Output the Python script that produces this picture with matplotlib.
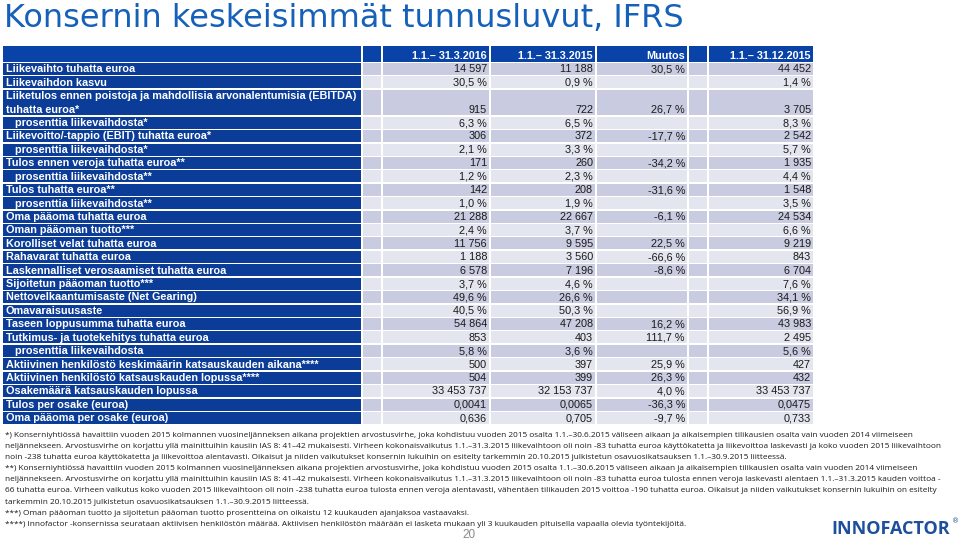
import matplotlib
matplotlib.use("Agg")
import matplotlib.pyplot as plt
from matplotlib.patches import Rectangle

# data
title = "Konsernin keskeisimmät tunnusluvut, IFRS"
headers = ["1.1.– 31.3.2016", "1.1.– 31.3.2015", "Muutos", "1.1.– 31.12.2015"]
labels = [
    "Liikevaihto tuhatta euroa",
    "Liikevaihdon kasvu",
    "Liiketulos ennen poistoja ja mahdollisia arvonalentumisia (EBITDA)\ntuhatta euroa*",
    "   prosenttia liikevaihdosta*",
    "Liikevoitto/-tappio (EBIT) tuhatta euroa*",
    "   prosenttia liikevaihdosta*",
    "Tulos ennen veroja tuhatta euroa**",
    "   prosenttia liikevaihdosta**",
    "Tulos tuhatta euroa**",
    "   prosenttia liikevaihdosta**",
    "Oma pääoma tuhatta euroa",
    "Oman pääoman tuotto***",
    "Korolliset velat tuhatta euroa",
    "Rahavarat tuhatta euroa",
    "Laskennalliset verosaamiset tuhatta euroa",
    "Sijoitetun pääoman tuotto***",
    "Nettovelkaantumisaste (Net Gearing)",
    "Omavaraisuusaste",
    "Taseen loppusumma tuhatta euroa",
    "Tutkimus- ja tuotekehitys tuhatta euroa",
    "   prosenttia liikevaihdosta",
    "Aktiivinen henkilöstö keskimäärin katsauskauden aikana****",
    "Aktiivinen henkilöstö katsauskauden lopussa****",
    "Osakemäärä katsauskauden lopussa",
    "Tulos per osake (euroa)",
    "Oma pääoma per osake (euroa)",
]
q1_2016 = ["14 597", "30,5 %", "915", "6,3 %", "306", "2,1 %", "171", "1,2 %", "142", "1,0 %",
           "21 288", "2,4 %", "11 756", "1 188", "6 578", "3,7 %", "49,6 %", "40,5 %", "54 864",
           "853", "5,8 %", "500", "504", "33 453 737", "0,0041", "0,636"]
q1_2015 = ["11 188", "0,9 %", "722", "6,5 %", "372", "3,3 %", "260", "2,3 %", "208", "1,9 %",
           "22 667", "3,7 %", "9 595", "3 560", "7 196", "4,6 %", "26,6 %", "50,3 %", "47 208",
           "403", "3,6 %", "397", "399", "32 153 737", "0,0065", "0,705"]
muutos = ["30,5 %", "", "26,7 %", "", "-17,7 %", "", "-34,2 %", "", "-31,6 %", "",
          "-6,1 %", "", "22,5 %", "-66,6 %", "-8,6 %", "", "", "", "16,2 %",
          "111,7 %", "", "25,9 %", "26,3 %", "4,0 %", "-36,3 %", "-9,7 %"]
fy_2015 = ["44 452", "1,4 %", "3 705", "8,3 %", "2 542", "5,7 %", "1 935", "4,4 %", "1 548", "3,5 %",
           "24 534", "6,6 %", "9 219", "843", "6 704", "7,6 %", "34,1 %", "56,9 %", "43 983",
           "2 495", "5,6 %", "427", "432", "33 453 737", "0,0475", "0,733"]
row_units = [1, 1, 2] + [1] * 23

footnotes = [
    "*) Konserniyhtiössä havaittiin vuoden 2015 kolmannen vuosineljänneksen aikana projektien arvostusvirhe, joka kohdistuu vuoden 2015 osalta 1.1.–30.6.2015 väliseen aikaan ja aikaisempien tilikausien osalta vain vuoden 2014 viimeiseen",
    "neljännekseen. Arvostusvirhe on korjattu yllä mainittuihin kausiin IAS 8: 41–42 mukaisesti. Virheen kokonaisvaikutus 1.1.–31.3.2015 liikevaihtoon oli noin -83 tuhatta euroa käyttökatetta ja liikevoittoa laskevasti ja koko vuoden 2015 liikevaihtoon",
    "noin -238 tuhatta euroa käyttökatetta ja liikevoittoa alentavasti. Oikaisut ja niiden vaikutukset konsernin lukuihin on esitelty tarkemmin 20.10.2015 julkistetun osavuosikatsauksen 1.1.–30.9.2015 liitteessä.",
    "**) Konserniyhtiössä havaittiin vuoden 2015 kolmannen vuosineljänneksen aikana projektien arvostusvirhe, joka kohdistuu vuoden 2015 osalta 1.1.–30.6.2015 väliseen aikaan ja aikaisempien tilikausien osalta vain vuoden 2014 viimeiseen",
    "neljännekseen. Arvostusvirhe on korjattu yllä mainittuihin kausiin IAS 8: 41–42 mukaisesti. Virheen kokonaisvaikutus 1.1.–31.3.2015 liikevaihtoon oli noin -83 tuhatta euroa tulosta ennen veroja laskevasti alentaen 1.1.–31.3.2015 kauden voittoa -",
    "66 tuhatta euroa. Virheen vaikutus koko vuoden 2015 liikevaihtoon oli noin -238 tuhatta euroa tulosta ennen veroja alentavasti, vähentäen tilikauden 2015 voittoa -190 tuhatta euroa. Oikaisut ja niiden vaikutukset konsernin lukuihin on esitelty",
    "tarkemmin 20.10.2015 julkistetun osavuosikatsauksen 1.1.–30.9.2015 liitteessä.",
    "***) Oman pääoman tuotto ja sijoitetun pääoman tuotto prosentteina on oikaistu 12 kuukauden ajanjaksoa vastaavaksi.",
    "****) Innofactor -konsernissa seurataan aktiivisen henkilöstön määrää. Aktiivisen henkilöstön määrään ei lasketa mukaan yli 3 kuukauden pituisella vapaalla olevia työntekijöitä.",
]

BLUE = "#0b3d98"
HEAD = "#0a43a8"
DARK = "#c9cce0"
LIGHT = "#e3e5ef"

fig = plt.figure(figsize=(9.6, 5.39), dpi=100)
ax = fig.add_axes([0, 0, 1, 1])
ax.set_xlim(0, 960)
ax.set_ylim(539, 0)
ax.axis("off")

ax.text(4, 27, title, fontsize=23, color="#1560b8", family="DejaVu Sans",
        va="baseline", ha="left")

# column edges (left, right)
cols = [(3, 361), (363, 381), (383, 489), (491, 595), (597, 687), (689, 707), (709, 813)]
value_cols = [2, 3, 4, 6]
col_data = [q1_2016, q1_2015, muutos, fy_2015]

def cell(x0, x1, y0, y1, color):
    ax.add_patch(Rectangle((x0, y0), x1 - x0, y1 - y0, facecolor=color, edgecolor="none"))

tfont = dict(family="Liberation Sans", fontsize=7.8)

# header
hy0, hy1 = 46, 61.5
for x0, x1 in cols:
    cell(x0, x1, hy0, hy1, HEAD)
for ci, h in zip(value_cols, headers):
    ax.text(cols[ci][1] - 2, hy1 - 2.5, h, color="white", ha="right", va="baseline",
            weight="bold", **tfont)

unit = 13.42
y = 63.0
for i, lab in enumerate(labels):
    hgt = unit * row_units[i]
    y0, y1 = y, y + hgt - 1.4
    bg = DARK if i % 2 == 0 else LIGHT
    cell(cols[0][0], cols[0][1], y0, y1, BLUE)
    for j in range(1, len(cols)):
        cell(cols[j][0], cols[j][1], y0, y1, bg)
    base = y1 - 2.7
    lines = lab.split("\n")
    for k, ln in enumerate(lines):
        ax.text(6, base - (len(lines) - 1 - k) * unit, ln, color="white", ha="left",
                va="baseline", weight="bold", **tfont)
    for ci, vals in zip(value_cols, col_data):
        ax.text(cols[ci][1] - 2, base, vals[i], color="#1a1a1a", ha="right",
                va="baseline", **tfont)
    y += hgt

# footnotes
for k, ln in enumerate(footnotes):
    ax.text(5, 435.5 + k * 11.1, ln, fontsize=5.95, family="Open Sans",
            color="#1a1a1a", ha="left", va="center")

ax.text(469, 537.5, "20", fontsize=8.5, color="#8a8a8a", ha="center", va="baseline",
        family="Liberation Sans")
ax.text(831, 529, "INNOFACTOR", fontsize=13, color="#1d4f9c", weight="bold",
        family="Open Sans", ha="left", va="center")
ax.text(952, 521, "®", fontsize=5, color="#1d4f9c", ha="left", va="center")

fig.savefig("out.png", dpi=100)
